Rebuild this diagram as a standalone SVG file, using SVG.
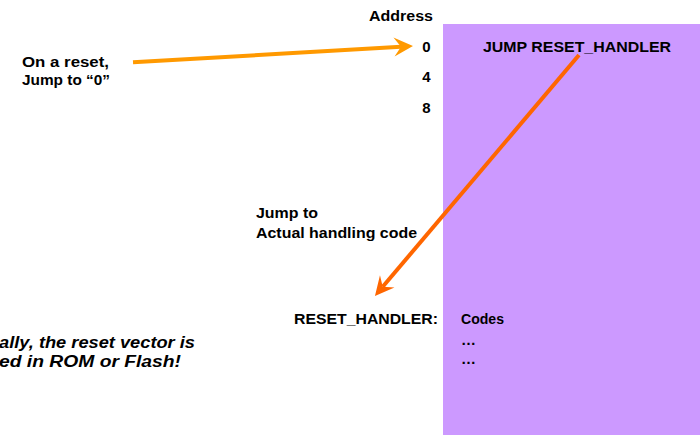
<svg xmlns="http://www.w3.org/2000/svg" width="700" height="435" viewBox="0 0 700 435">
  <style>
    .t { font-family: "Liberation Sans", Arial, sans-serif; font-weight: bold; font-size: 15px; fill: #000; }
    .s { font-size: 14.5px; }
    .it { font-style: italic; font-size: 16px; }
    .end { text-anchor: end; }
    .a1 { stroke: #FF9900; stroke-width: 4; fill: none; }
    .a2 { stroke: #FF6600; stroke-width: 4; fill: none; }
  </style>
  <defs>
    <marker id="headA" markerUnits="userSpaceOnUse" orient="auto" refX="0" refY="0" viewBox="-8 -11 22 22" markerWidth="22" markerHeight="22" overflow="visible">
      <path d="M12,0 L-7,-9.5 L0,0 L-7,9.5 Z" fill="#FF9900"/>
    </marker>
    <marker id="headB" markerUnits="userSpaceOnUse" orient="auto" refX="0" refY="0" viewBox="-8 -11 22 22" markerWidth="22" markerHeight="22" overflow="visible">
      <path d="M12,0 L-7,-9.5 L0,0 L-7,9.5 Z" fill="#FF6600"/>
    </marker>
  </defs>

  <!-- memory block -->
  <g id="memory">
    <rect x="443" y="24" width="257" height="411" fill="#CC99FF"/>
    <text class="t" x="483" y="51.7" textLength="188" lengthAdjust="spacingAndGlyphs">JUMP RESET_HANDLER</text>
    <text class="t" x="461" y="324" textLength="43" lengthAdjust="spacingAndGlyphs">Codes</text>
    <text class="t" x="461" y="345">…</text>
    <text class="t" x="461" y="364">…</text>
  </g>

  <!-- address column -->
  <g id="addresses">
    <text class="t s" x="369" y="21.3" textLength="64" lengthAdjust="spacingAndGlyphs">Address</text>
    <text class="t end" x="430.5" y="51.7">0</text>
    <text class="t end" x="430.5" y="82.3">4</text>
    <text class="t end" x="430.5" y="113.3">8</text>
    <text class="t" x="294" y="324" textLength="144" lengthAdjust="spacingAndGlyphs">RESET_HANDLER:</text>
  </g>

  <g id="reset-note">
    <text class="t s" x="22" y="66.7" textLength="87" lengthAdjust="spacingAndGlyphs">On a reset,</text>
    <text class="t s" x="22" y="84.7" textLength="88" lengthAdjust="spacingAndGlyphs">Jump to “0”</text>
  </g>

  <g id="jump-note">
    <text class="t s" x="256" y="218.3" textLength="62" lengthAdjust="spacingAndGlyphs">Jump to</text>
    <text class="t s" x="256" y="237.7" textLength="161" lengthAdjust="spacingAndGlyphs">Actual handling code</text>
  </g>

  <g id="rom-note">
    <text class="t it end" x="195" y="348" textLength="196" lengthAdjust="spacingAndGlyphs">ally, the reset vector is</text>
    <text class="t it end" x="181" y="366.7" textLength="182" lengthAdjust="spacingAndGlyphs">ed in ROM or Flash!</text>
  </g>

  <!-- connectors -->
  <g id="connectors">
    <line class="a1" x1="133" y1="62.3" x2="401" y2="46.7" marker-end="url(#headA)"/>
    <line class="a2" x1="579" y1="55" x2="382.7" y2="286.8" marker-end="url(#headB)"/>
  </g>
</svg>
